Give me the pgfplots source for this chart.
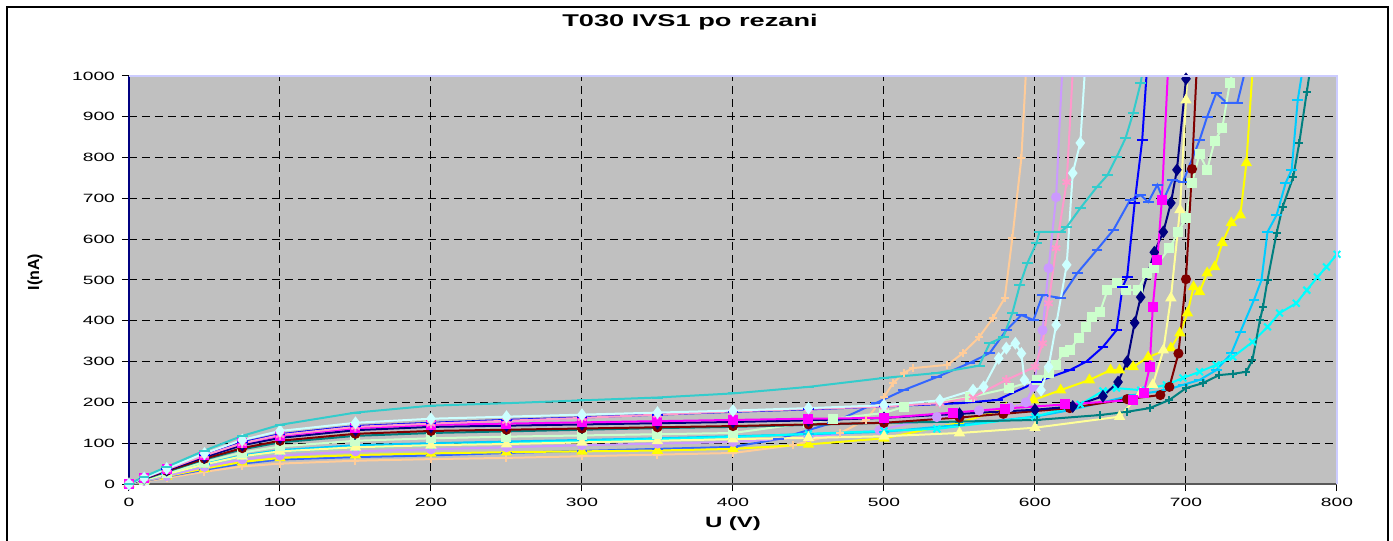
\documentclass[border=0pt]{standalone}
\usepackage{fontspec}
\setmainfont{Liberation Sans}[FakeStretch=1.6]
\newfontfamily\plainsans{Liberation Sans}
\usepackage{pgfplots}
\pgfplotsset{compat=1.18}
\definecolor{silverbg}{HTML}{C0C0C0}
\definecolor{cTurq}{HTML}{33CCCC}
\definecolor{cLCyan}{HTML}{CCFFFF}
\definecolor{cPink}{HTML}{FF99CC}
\definecolor{cLav}{HTML}{CC99FF}
\definecolor{cBlue}{HTML}{0000FF}
\definecolor{cMag}{HTML}{FF00FF}
\definecolor{cNavy}{HTML}{000080}
\definecolor{cDRed}{HTML}{800000}
\definecolor{cTeal}{HTML}{008080}
\definecolor{cLGreen}{HTML}{CCFFCC}
\definecolor{cLYellow}{HTML}{FFFF99}
\definecolor{cCyan}{HTML}{00FFFF}
\definecolor{cSky}{HTML}{00CCFF}
\definecolor{cYellow}{HTML}{FFFF00}
\definecolor{cRoyal}{HTML}{3366FF}
\definecolor{cPeach}{HTML}{FFCC99}
\definecolor{cEdge}{HTML}{CCCCFF}
\begin{document}
\begin{tikzpicture}
\useasboundingbox (-64.5pt,-28.5pt) rectangle (632pt,242pt);
\draw[black, line width=0.6pt] (-61pt,-40pt) rectangle (629.5pt,238.5pt);
\begin{axis}[at={(0,0)}, anchor=south west, scale only axis,
  width=604pt, height=204pt,
  xmin=0, xmax=800, ymin=0, ymax=1000,
  xtick={0,100,...,800}, ytick={0,100,...,1000},
  axis x line*=bottom, axis y line*=left,
  tick align=outside, major tick length=3.5pt,
  tick style={black, line width=0.5pt},
  grid=major,
  grid style={black, dash pattern=on 4pt off 2.5pt, line width=0.5pt},
  axis background/.style={fill=silverbg},
  tick label style={font=\fontsize{6}{7}\selectfont},
  /pgf/number format/assume math mode=true,
  /pgf/number format/set thousands separator={},
  x axis line style={gray!70!black, line width=0.8pt, -},
  y axis line style={cNavy, line width=0.8pt, -},
  every axis plot/.append style={line width=1pt, mark size=2pt, mark options={solid}},
]
% peach plus
\addplot[color=cPeach, mark=+] coordinates {(0,0)(10,6)(25,15)(50,30)(75,43)(100,50)(150,57)(200,61)(250,64)(300,68)(350,72)(400,76)(440,95)(471,125)(488,157)(500,213)(506,247)(513,272)(519,284)(542,292)(552,320)(563,360)(572,406)(580,456)(585,603)(591,799)(594,1010)};
% royal blue dash
\addplot[color=cRoyal, mark=-, mark size=2.7pt] coordinates {(0,0)(10,7)(25,18)(50,35)(75,50)(100,60)(150,66)(200,70)(250,76)(300,81)(350,86)(400,91)(430,110)(466,150)(495,199)(513,230)(535,262)(557,297)(570,321)(581,377)(591,414)(599,402)(605,463)(617,456)(628,517)(641,574)(652,623)(663,696)(670,708)(675,691)(681,733)(685,696)(691,745)(698,740)(709,843)(714,900)(720,958)(727,934)(734,934)(739,1010)};
% yellow triangle
\addplot[color=cYellow, mark=triangle*, mark size=2.3pt] coordinates {(0,0)(10,8)(25,19)(50,38)(75,54)(100,64)(150,71)(200,75)(250,78)(300,80)(350,82)(400,86)(450,97)(500,112)(550,150)(581,186)(599,206)(617,230)(636,255)(650,279)(656,279)(665,287)(675,311)(690,333)(696,370)(701,419)(705,483)(709,471)(714,517)(719,532)(724,591)(730,640)(736,659)(740,787)(744,1010)};
% lavender circle
\addplot[color=cLav, mark=*] coordinates {(0,0)(10,8)(25,20)(50,42)(75,60)(100,70)(150,80)(200,85)(250,90)(300,95)(350,99)(400,103)(450,115)(497,132)(535,164)(563,180)(583,188)(594,200)(599,238)(605,377)(609,529)(614,703)(618,1010)};
% sky blue dash
\addplot[color=cSky, mark=-, mark size=2.7pt] coordinates {(0,0)(10,10)(25,25)(50,50)(75,70)(100,83)(150,95)(200,100)(250,104)(300,108)(350,112)(400,117)(450,122)(500,128)(550,145)(600,165)(623,181)(665,218)(687,230)(698,243)(709,255)(720,279)(730,320)(736,373)(745,451)(750,500)(754,618)(760,659)(766,738)(770,770)(774,941)(777,1010)};
% cyan x
\addplot[color=cCyan, mark=x, mark size=2.4pt] coordinates {(0,0)(10,10)(25,24)(50,48)(75,68)(100,80)(150,90)(200,95)(250,100)(300,105)(350,110)(400,115)(450,123)(500,130)(535,135)(600,165)(630,195)(645,228)(654,235)(670,230)(687,243)(698,260)(709,275)(720,292)(731,311)(744,348)(754,385)(762,419)(773,443)(780,475)(787,507)(793,532)(800,563)};
% light yellow triangle
\addplot[color=cLYellow, mark=triangle*, mark size=2.3pt] coordinates {(0,0)(10,10)(25,24)(50,48)(75,68)(100,80)(150,90)(200,95)(250,98)(300,102)(350,106)(400,110)(450,113)(500,117)(550,125)(600,138)(656,165)(670,223)(678,243)(685,328)(690,456)(696,672)(700,941)(701,1010)};
% light green square
\addplot[color=cLGreen, mark=square*] coordinates {(0,0)(10,11)(25,27)(50,54)(75,77)(100,92)(150,106)(200,112)(250,116)(300,119)(350,122)(400,125)(450,150)(466,160)(500,174)(513,189)(557,213)(583,235)(601,255)(609,272)(614,292)(619,324)(623,328)(629,358)(634,385)(638,409)(643,421)(648,475)(654,493)(660,475)(668,475)(674,517)(679,529)(689,578)(695,618)(700,652)(704,738)(709,809)(714,770)(719,841)(724,872)(729,983)(731,1010)};
% teal plus
\addplot[color=cTeal, mark=+] coordinates {(0,0)(10,12)(25,30)(50,60)(75,85)(100,102)(150,118)(200,125)(250,129)(300,133)(350,137)(400,140)(450,145)(500,150)(550,153)(601,157)(643,169)(661,177)(676,186)(689,206)(700,235)(711,247)(722,267)(731,270)(740,275)(744,304)(749,402)(751,434)(754,500)(760,615)(764,679)(771,752)(775,836)(780,961)(782,1010)};
% dark red circle
\addplot[color=cDRed, mark=*] coordinates {(0,0)(10,13)(25,32)(50,62)(75,88)(100,106)(150,123)(200,130)(250,133)(300,136)(350,139)(400,142)(450,146)(500,150)(550,163)(579,172)(623,186)(661,208)(683,218)(689,238)(695,320)(700,502)(704,772)(707,1010)};
% navy diamond
\addplot[color=cNavy, mark=diamond*, mark size=2.4pt] coordinates {(0,0)(10,14)(25,34)(50,66)(75,95)(100,113)(150,132)(200,140)(250,143)(300,146)(350,149)(400,152)(450,156)(500,162)(550,172)(600,182)(625,190)(645,215)(655,250)(661,300)(666,395)(670,458)(679,568)(685,618)(690,689)(694,770)(700,993)(702,1030)};
% magenta square
\addplot[color=cMag, mark=square*] coordinates {(0,0)(10,15)(25,36)(50,70)(75,100)(100,118)(150,137)(200,145)(250,148)(300,151)(350,154)(400,157)(450,160)(500,162)(546,175)(580,185)(620,195)(665,206)(672,223)(676,287)(678,434)(681,549)(684,696)(688,1010)};
% blue dash
\addplot[color=cBlue, mark=-, mark size=2.7pt] coordinates {(0,0)(10,15)(25,37)(50,72)(75,102)(100,122)(150,142)(200,150)(250,157)(300,163)(350,170)(400,177)(450,183)(500,190)(550,198)(575,206)(601,250)(623,279)(634,300)(645,336)(654,377)(658,483)(661,507)(666,689)(671,843)(674,1010)};
% pink asterisk
\addplot[color=cPink, mark=asterisk, mark size=2.4pt] coordinates {(0,0)(10,15)(25,36)(50,70)(75,100)(100,120)(150,140)(200,148)(250,155)(300,162)(350,170)(400,178)(450,184)(500,190)(537,198)(559,213)(581,255)(600,287)(605,345)(609,443)(614,578)(621,740)(625,1010)};
% light cyan diamond
\addplot[color=cLCyan, mark=diamond*, mark size=2.4pt] coordinates {(0,0)(10,15)(25,38)(50,75)(75,108)(100,130)(150,150)(200,160)(250,165)(300,170)(350,175)(400,180)(450,186)(500,193)(537,205)(559,230)(566,238)(576,308)(581,333)(587,345)(591,320)(593,255)(604,230)(609,287)(614,390)(621,537)(625,762)(630,836)(633,1010)};
% turquoise dash
\addplot[color=cTurq, mark=-, mark size=2.7pt] coordinates {(0,0)(10,18)(25,42)(50,82)(75,118)(100,145)(150,175)(200,192)(250,198)(300,205)(350,212)(400,222)(450,238)(500,260)(535,272)(563,290)(570,345)(579,360)(585,419)(590,488)(595,542)(601,591)(603,618)(617,618)(621,630)(630,676)(641,728)(648,757)(654,801)(660,848)(665,909)(670,983)(672,1030)};
\end{axis}
\draw[cEdge, line width=0.8pt] (0,204pt) -- (604pt,204pt) -- (604pt,0);
\node[font=\fontsize{8.5}{10}\selectfont\bfseries] at (280.5pt,231pt) {T030 IVS1 po rezani};
\node[font=\fontsize{7.5}{9}\selectfont\bfseries] at (302pt,-20pt) {U (V)};
\node[rotate=90, font=\plainsans\fontsize{8}{9}\selectfont\bfseries] at (-47pt,106pt) {I(nA)};
\end{tikzpicture}
\end{document}
